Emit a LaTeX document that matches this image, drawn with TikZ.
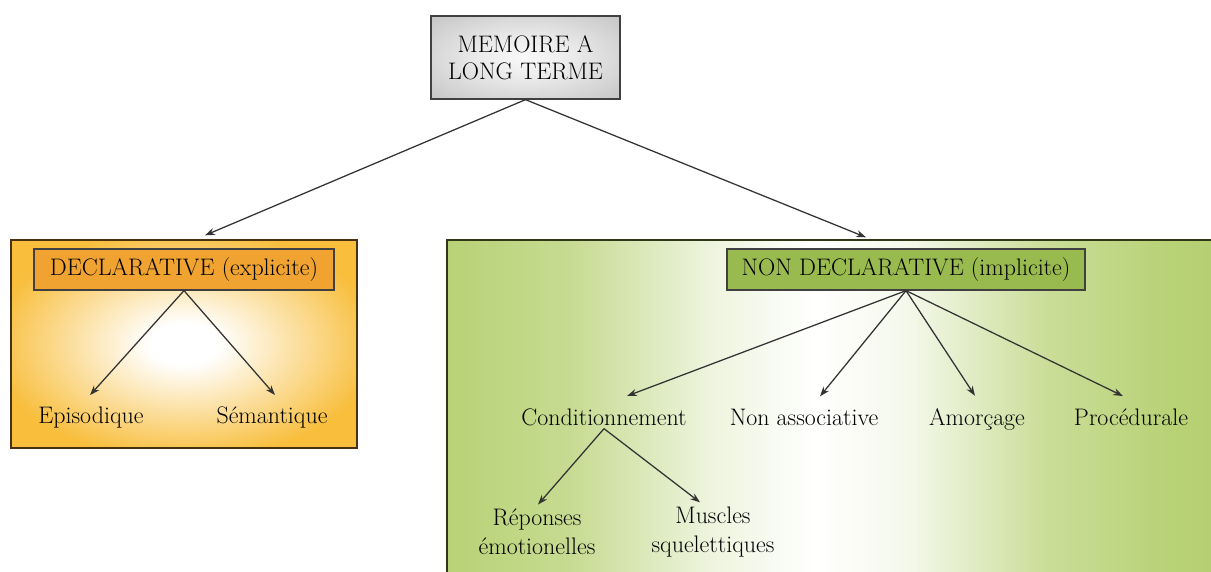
\documentclass[tikz,border=0pt]{standalone}
\usepackage{tikz}
\usetikzlibrary{arrows.meta,calc}

\definecolor{gris}{RGB}{190,190,190}
\definecolor{orclair}{RGB}{248,190,60}
\definecolor{orfonce}{RGB}{240,163,48}
\definecolor{vertclair}{RGB}{184,210,118}
\definecolor{vertfonce}{RGB}{152,186,78}

\pgfdeclareradialshading{halo}{\pgfpoint{0bp}{0bp}}{color(0bp)=(white); color(5bp)=(white); color(28bp)=(orclair); color(50bp)=(orclair)}
\pgfdeclareradialshading{halogris}{\pgfpoint{0bp}{0bp}}{color(0bp)=(white!90!gris); color(12bp)=(white!70!gris); color(40bp)=(gris); color(50bp)=(gris)}
\pgfdeclarehorizontalshading{bande}{100bp}{color(0bp)=(vertclair); color(25bp)=(vertclair); color(33bp)=(vertclair!80!white); color(42bp)=(white!75!vertclair); color(49bp)=(white); color(55bp)=(white!85!vertclair); color(64bp)=(vertclair!75!white); color(72bp)=(vertclair); color(75bp)=(vertclair!90!vertfonce); color(100bp)=(vertclair!90!vertfonce)}

\begin{document}
\begin{tikzpicture}[x=0.025cm,y=-0.025cm,
  every node/.style={font=\fontsize{17}{21}\selectfont, text=black, inner sep=0pt},
  boite/.style={draw=black!75, line width=0.9pt},
  feuille/.style={anchor=base, align=center},
  fleche/.style={-{Stealth[length=7pt,width=5pt]}, line width=0.9pt, black!80}]

\useasboundingbox (0,0) rectangle (1211,572);

\node (declpanel) [boite, draw=black!70!orfonce, shading=halo, minimum width=8.65cm, minimum height=5.2cm] at (184,344) {};
\node (nondeclpanel) [boite, draw=black!70!vertfonce, shading=bande, minimum width=19.2cm, minimum height=8.5cm] at (831,410) {};

\node (memoire) [boite, shading=halogris, minimum width=4.725cm, minimum height=2.075cm, align=center, font=\fontsize{17}{19.5}\selectfont] at (525.5,57.5) {MEMOIRE A\\LONG TERME};
\node (decl) [boite, fill=orfonce, minimum width=7.5cm, minimum height=1.025cm] at (184,269.5) {DECLARATIVE (explicite)};
\node (nondecl) [boite, fill=vertfonce, minimum width=8.95cm, minimum height=1.025cm] at (906,269.5) {NON DECLARATIVE (implicite)};

\node (episo) [feuille] at (91,423) {Episodique};
\node (seman) [feuille] at (272,423) {S\'emantique};
\node (cond) [feuille] at (604,425) {Conditionnement};
\node (nonasso) [feuille] at (804,425) {Non associative};
\node (amorc) [feuille] at (977,425) {Amor\c{c}age};
\node (proced) [feuille] at (1131,425) {Proc\'edurale};
\node (reponses) [align=center] at (537,532) {R\'eponses\\\'emotionelles};
\node (muscles) [align=center] at (713,532) {Muscles\\squelettiques};

\draw[fleche] (memoire.south) -- ($(declpanel.north)+(21,-4)$);
\draw[fleche] (memoire.south) -- ($(nondeclpanel.north)+(35,-2)$);

\draw[fleche] (decl.south) -- ($(episo.north)+(-1,-11)$);
\draw[fleche] (decl.south) -- ($(seman.north)+(3,-11)$);

\draw[fleche] (nondecl.south) -- ($(cond.north)+(23,-12)$);
\draw[fleche] (nondecl.south) -- ($(nonasso.north)+(16,-12)$);
\draw[fleche] (nondecl.south) -- ($(amorc.north)+(-2,-12)$);
\draw[fleche] (nondecl.south) -- ($(proced.north)+(-8,-12)$);

\draw[fleche] ($(cond.south)+(0,3)$) -- ($(reponses.north)+(1,-4)$);
\draw[fleche] ($(cond.south)+(0,3)$) -- ($(muscles.north)+(-13,-4)$);

\end{tikzpicture}
\end{document}
